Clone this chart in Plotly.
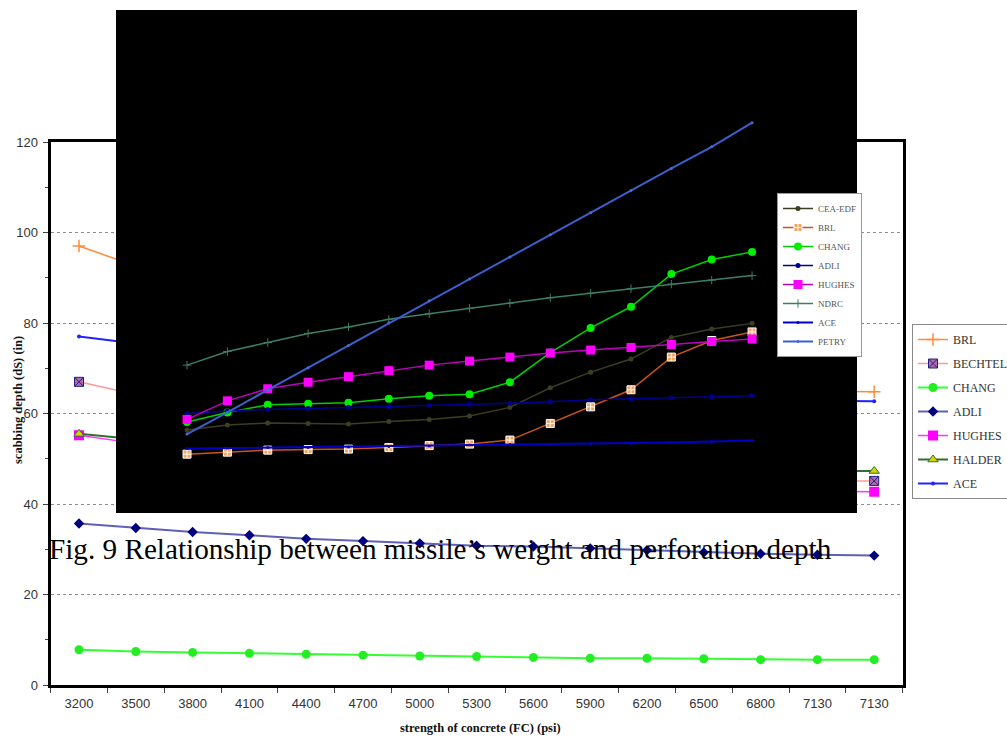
import plotly.graph_objects as go

# ---------------- background chart data (scabbing depth vs concrete strength) ----------------
categories = ["3200", "3500", "3800", "4100", "4400", "4700", "5000", "5300",
              "5600", "5900", "6200", "6500", "6800", "7130", "7130"]
brl     = [97.0, 92.6, 89.0, 85.7, 82.7, 80.0, 77.6, 75.4, 73.3, 71.4, 69.7, 68.1, 66.5, 64.9, 64.8]
bechtel = [67.0, 64.2, 61.4, 59.1, 57.1, 55.2, 53.6, 52.1, 50.7, 49.4, 48.2, 47.1, 46.1, 45.1, 45.1]
chang   = [7.8, 7.4, 7.2, 7.0, 6.8, 6.6, 6.4, 6.3, 6.1, 5.9, 5.9, 5.8, 5.6, 5.6, 5.6]
adli    = [35.7, 34.7, 33.8, 33.1, 32.3, 31.8, 31.3, 30.8, 30.6, 30.2, 29.8, 29.3, 29.0, 28.8, 28.6]
hughes  = [55.2, 53.4, 51.9, 50.6, 49.4, 48.3, 47.4, 46.5, 45.7, 45.0, 44.4, 43.8, 43.3, 42.8, 42.7]
halder  = [55.5, 54.3, 53.3, 52.4, 51.6, 50.9, 50.3, 49.7, 49.2, 48.8, 48.4, 48.0, 47.7, 47.3, 47.3]
ace     = [77.0, 75.4, 73.9, 72.5, 71.2, 70.0, 68.9, 67.9, 67.0, 66.1, 65.3, 64.5, 63.8, 62.8, 62.7]

# ---------------- inner (overlaid) chart data ----------------
inner_points = list(range(15))
in_cea   = [16.5, 17.5, 17.9, 17.8, 17.7, 18.2, 18.6, 19.3, 21.0, 24.9, 28.0, 30.6, 34.9, 36.6, 37.7]
in_brl   = [11.7, 12.1, 12.5, 12.6, 12.7, 13.0, 13.4, 13.7, 14.5, 17.8, 21.1, 24.5, 31.0, 34.3, 36.0]
in_chang = [18.1, 20.0, 21.5, 21.7, 21.9, 22.7, 23.3, 23.6, 26.0, 31.9, 36.8, 41.0, 47.5, 50.4, 51.9]
in_adli  = [19.8, 20.3, 20.6, 20.8, 21.0, 21.1, 21.4, 21.6, 21.8, 22.1, 22.5, 22.7, 22.9, 23.1, 23.3]
in_hughes = [18.6, 22.3, 24.7, 26.0, 27.1, 28.3, 29.4, 30.2, 31.0, 31.8, 32.4, 32.9, 33.5, 34.1, 34.6]
in_ndrc  = [29.4, 32.1, 33.9, 35.7, 37.0, 38.5, 39.6, 40.7, 41.7, 42.8, 43.7, 44.6, 45.5, 46.3, 47.2]
in_ace   = [12.8, 12.9, 13.0, 13.0, 13.1, 13.2, 13.3, 13.5, 13.6, 13.6, 13.7, 13.8, 14.0, 14.2, 14.4]
in_petry = [15.7, 20.0, 24.5, 28.9, 33.3, 37.8, 42.2, 46.5, 50.9, 55.3, 59.7, 64.1, 68.5, 72.8, 77.6]

caption = "Fig. 9 Relationship between missile\u2019s weight and perforation depth"

W, H = 1007, 740
def px(x): return x / W
def py(y): return 1 - y / H

idx = list(range(len(categories)))
fig = go.Figure()

bg_series = [
    ("BRL", brl, dict(color="#ff8c3c", width=1.5), dict(symbol="cross-thin", size=9, line=dict(color="#ff8c3c", width=1.5))),
    ("BECHTEL", bechtel, dict(color="#ff9a9a", width=1.5), dict(symbol="square-x", size=9, color="#b46aa8", line=dict(color="#202080", width=1))),
    ("CHANG", chang, dict(color="#33ff33", width=2), dict(symbol="circle", size=9, color="#22ee22")),
    ("ADLI", adli, dict(color="#6060b8", width=2), dict(symbol="diamond", size=8, color="#000080")),
    ("HUGHES", hughes, dict(color="#ff33ff", width=1.5), dict(symbol="square", size=10, color="#ff00ff")),
    ("HALDER", halder, dict(color="#2f6f2f", width=2), dict(symbol="triangle-up", size=9, color="#d4d400", line=dict(color="#2f6f2f", width=1))),
    ("ACE", ace, dict(color="#2222ff", width=2), dict(symbol="circle", size=4, color="#2222ff")),
]
for name, ys, ln, mk in bg_series:
    fig.add_trace(go.Scatter(x=idx, y=ys, name=name, mode="lines+markers", line=ln, marker=mk,
                             xaxis="x", yaxis="y", legend="legend", legendgroup=name))

in_series = [
    ("CEA-EDF", in_cea, dict(color="#3d3d20", width=1.5), dict(symbol="circle", size=5, color="#3d3d20")),
    ("BRL", in_brl, dict(color="#c8561a", width=1.5), dict(symbol="square-cross", size=8, color="#f4a460", line=dict(color="#ffffff", width=1))),
    ("CHANG", in_chang, dict(color="#00d000", width=1.5), dict(symbol="circle", size=8, color="#00ee00")),
    ("ADLI", in_adli, dict(color="#000090", width=1.5), dict(symbol="circle", size=5, color="#000090")),
    ("HUGHES", in_hughes, dict(color="#c000c0", width=1.5), dict(symbol="square", size=9, color="#ff00ff")),
    ("NDRC", in_ndrc, dict(color="#3c7f62", width=1.5), dict(symbol="cross-thin", size=6, line=dict(color="#3c7f62", width=1))),
    ("ACE", in_ace, dict(color="#0000c8", width=2), dict(symbol="circle", size=3, color="#0000c8")),
    ("PETRY", in_petry, dict(color="#3c5fcc", width=2), dict(symbol="circle", size=3, color="#4a6ad8")),
]
for name, ys, ln, mk in in_series:
    fig.add_trace(go.Scatter(x=inner_points, y=ys, name=name, mode="lines+markers", line=ln, marker=mk,
                             xaxis="x2", yaxis="y2", legend="legend2"))

# inner axes ranges (black panel covers whole inner domain)
x2_range = [-1.76, 16.60]
y2_range = [0, 100]

fig.add_shape(type="rect", xref="x2", yref="y2", x0=x2_range[0], x1=x2_range[1],
              y0=y2_range[0], y1=y2_range[1], fillcolor="black", line=dict(width=0), layer="below")

tickfont = dict(family="Liberation Sans, Arial", size=13, color="#333")
fig.update_layout(
    width=W, height=H,
    margin=dict(l=0, r=0, t=0, b=0, autoexpand=False),
    paper_bgcolor="white", plot_bgcolor="white",
    showlegend=True,
    xaxis=dict(domain=[px(50.6), px(902.6)], range=[-0.5, 14.5], tickmode="array",
               tickvals=idx, ticktext=categories, ticks="", showgrid=False, zeroline=False,
               showline=True, mirror=True, linecolor="black", linewidth=3,
               minor=dict(tick0=-0.5, dtick=1, ticks="outside", ticklen=5, tickcolor="#444", showgrid=False),
               tickfont=tickfont, ticklabelstandoff=4, anchor="y"),
    yaxis=dict(domain=[py(685), py(142)], range=[0, 120], dtick=20, ticks="outside", ticklen=5,
               tickcolor="#444", showgrid=True, gridcolor="#8c8c8c", griddash="dot", gridwidth=1,
               zeroline=False, showline=True, mirror=True, linecolor="black", linewidth=3,
               minor=dict(dtick=10, ticks="outside", ticklen=3, tickcolor="#444", showgrid=False),
               tickfont=tickfont, ticklabelstandoff=2, anchor="x"),
    xaxis2=dict(domain=[px(116), px(857)], range=x2_range, visible=False, anchor="y2"),
    yaxis2=dict(domain=[py(513), py(10)], range=y2_range, visible=False, anchor="x2"),
    legend=dict(x=px(912), y=py(324), xanchor="left", yanchor="top", bgcolor="white",
                bordercolor="#8a8a8a", borderwidth=1, tracegroupgap=5,
                font=dict(family="Liberation Serif, Times New Roman", size=12, color="#333")),
    legend2=dict(x=px(777), y=py(193), xanchor="left", yanchor="top", bgcolor="white",
                 bordercolor="#999", borderwidth=1,
                 font=dict(family="Liberation Serif, Times New Roman", size=9, color="#555")),
)

fig.add_annotation(text="<b>scabbing depth (dS) (in)</b>", xref="paper", yref="paper",
                   x=px(18), y=py(400), xanchor="center", yanchor="middle", textangle=-90, showarrow=False,
                   font=dict(family="Liberation Serif, Times New Roman", size=12.5, color="#111"))
fig.add_annotation(text="<b>strength of concrete (FC) (psi)</b>", xref="paper", yref="paper",
                   x=px(480), y=py(728), xanchor="center", yanchor="middle", showarrow=False,
                   font=dict(family="Liberation Serif, Times New Roman", size=12.5, color="#111"))
fig.add_annotation(text=caption, xref="paper", yref="paper", x=px(47), y=py(549),
                   xanchor="left", yanchor="middle", showarrow=False,
                   font=dict(family="Liberation Serif, Times New Roman", size=29.2, color="black"))

fig.write_html("out.html")
